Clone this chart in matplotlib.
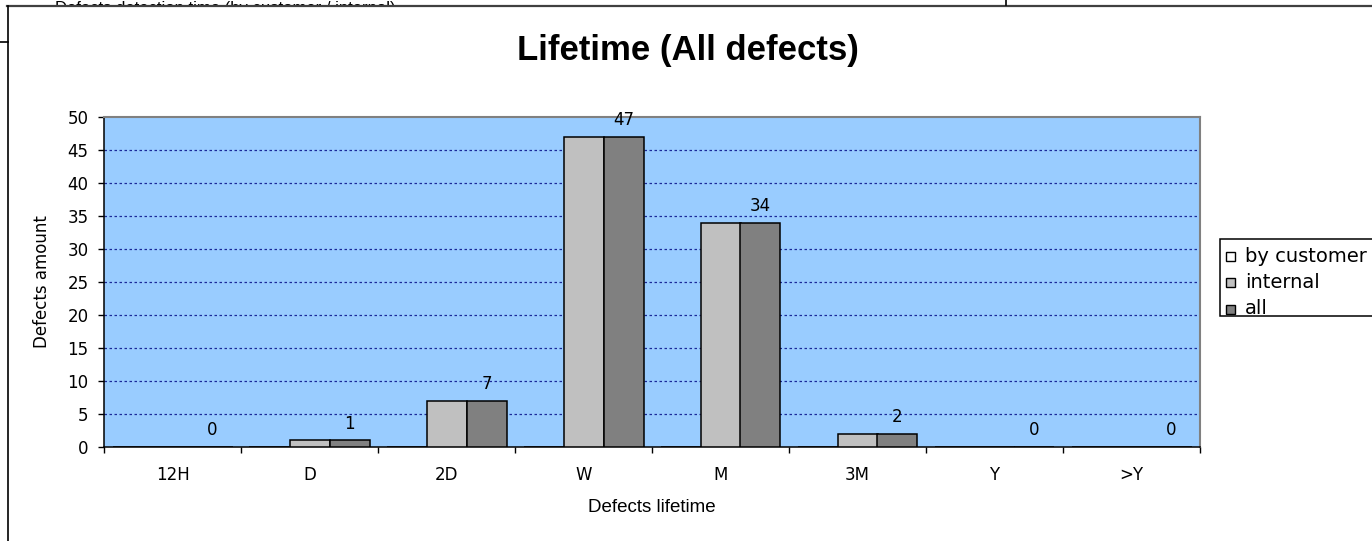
import matplotlib
matplotlib.use("Agg")
import matplotlib.pyplot as plt
from matplotlib.patches import Rectangle
from matplotlib.lines import Line2D
import numpy as np

# chart data
categories = ["12H", "D", "2D", "W", "M", "3M", "Y", ">Y"]
by_customer = [0, 0, 0, 0, 0, 0, 0, 0]
internal = [0, 1, 7, 47, 34, 2, 0, 0]
all_defects = [0, 1, 7, 47, 34, 2, 0, 0]
series_names = ["by customer", "internal", "all"]
series_colors = ["#FFFFFF", "#C0C0C0", "#808080"]

W, H = 1372, 541


def fx(px):
    return px / W


def fy(py):
    return 1 - py / H


fig = plt.figure(figsize=(W / 100, H / 100), dpi=100)
fig.patch.set_facecolor("white")

# title of the chart lying behind this one, mostly hidden
fig.text(fx(55), fy(9), "Defects detection time (by customer / internal)",
         fontsize=12, family="Liberation Sans", va="center", ha="left",
         color="black", zorder=1)
fig.patches.append(Rectangle((fx(7), 0), 1, fy(5.5), transform=fig.transFigure,
                             facecolor="white", edgecolor="none", zorder=2))

# frame lines of the chart area
fig.add_artist(Line2D([fx(7), 1], [fy(5.5), fy(5.5)], color="#404040", lw=1.6, zorder=3))
fig.add_artist(Line2D([fx(7.5), fx(7.5)], [0, fy(5.5)], color="black", lw=1.2, zorder=3))
fig.add_artist(Line2D([0, fx(7.5)], [fy(42), fy(42)], color="black", lw=1.2, zorder=3))
fig.add_artist(Line2D([fx(1006), fx(1006)], [fy(5), 1], color="black", lw=1.2, zorder=3))

ax = fig.add_axes([fx(104), fy(447), fx(1200) - fx(104), fy(117) - fy(447)])
ax.set_zorder(4)
ax.set_facecolor("#99CCFF")

x = np.arange(len(categories)) + 0.5
bw = 40 / 137.0
for i, (vals, col) in enumerate(zip([by_customer, internal, all_defects], series_colors)):
    ax.bar(x + (i - 1) * bw, vals, width=bw, color=col, edgecolor="black",
           linewidth=1.1, zorder=3, label=series_names[i])

for xi, v in zip(x, all_defects):
    ax.annotate(str(v), (xi + bw, v), xytext=(0, 12), textcoords="offset points",
                ha="center", va="center", fontsize=12, family="DejaVu Sans")

ax.set_xlim(0, len(categories))
ax.set_ylim(0, 50)
ax.set_yticks(np.arange(0, 51, 5))
ax.set_xticks(np.arange(0, len(categories) + 1))
ax.set_xticklabels([])
ax.set_xticks(x, minor=True)
ax.set_xticklabels(categories, minor=True)
ax.tick_params(axis="x", which="minor", length=0, pad=14, labelsize=12)
ax.tick_params(axis="x", which="major", length=4, width=1, color="black")
ax.tick_params(axis="y", length=4, width=1, pad=7, labelsize=12)

for yv in range(5, 50, 5):
    ax.axhline(yv, color="#1a2a9a", lw=0.9, ls=(0, (2, 2)), zorder=1)

ax.spines["top"].set_color("#808080")
ax.spines["right"].set_color("#808080")
ax.spines["top"].set_linewidth(1.5)
ax.spines["right"].set_linewidth(1.5)
ax.spines["left"].set_linewidth(1.1)
ax.spines["bottom"].set_linewidth(1.1)

ax.set_ylabel("Defects amount", fontsize=12, labelpad=12)
fig.text(fx(652), fy(508), "Defects lifetime", fontsize=13.5, family="Liberation Sans",
         ha="center", va="center")
fig.text(fx(688), fy(50), "Lifetime (All defects)", fontsize=25, fontweight="bold",
         family="Liberation Sans", ha="center", va="center")

# legend box, running past the right edge as in the picture
fig.patches.append(Rectangle((fx(1220), fy(316)), fx(200), fy(239) - fy(316),
                             transform=fig.transFigure, facecolor="white",
                             edgecolor="black", lw=1.1, zorder=5))
for i, (name, col) in enumerate(zip(series_names, series_colors)):
    yc = 256 + i * 26.5
    fig.patches.append(Rectangle((fx(1226), fy(yc + 4.5)), fx(9), fy(yc - 4.5) - fy(yc + 4.5),
                                 transform=fig.transFigure, facecolor=col,
                                 edgecolor="black", lw=1.0, zorder=6))
    fig.text(fx(1245), fy(yc), name, fontsize=14, ha="left", va="center", zorder=6)

fig.savefig("out.png", dpi=100)
